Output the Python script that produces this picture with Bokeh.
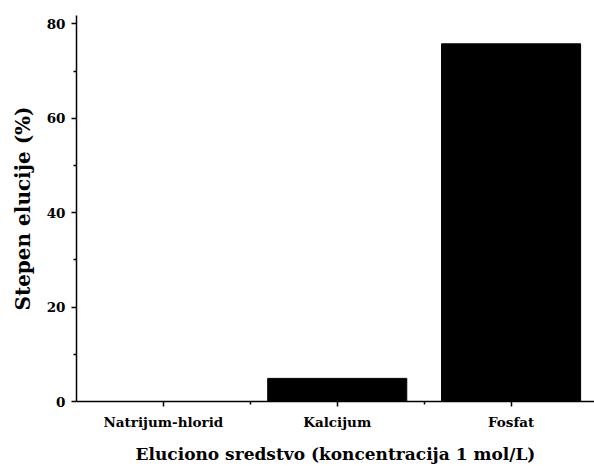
from bokeh.plotting import figure
from bokeh.models import Range1d, FixedTicker
from bokeh.embed import file_html
from bokeh.resources import INLINE

categories = ["Natrijum-hlorid", "Kalcijum", "Fosfat"]
positions = [1, 2, 3]
values = [0.0, 4.9, 75.8]

FONT = "DejaVu Serif"

p = figure(width=594, height=466, output_backend="svg", toolbar_location=None,
           x_range=Range1d(0.5, 3.48), y_range=Range1d(0, 81.8),
           min_border_left=76, min_border_right=0, min_border_top=15, min_border_bottom=64)

p.vbar(x=positions, top=values, width=0.8, color="black")

p.outline_line_color = None
p.xgrid.grid_line_color = None
p.ygrid.grid_line_color = None

xa = p.xaxis[0]
xa.ticker = FixedTicker(ticks=positions, minor_ticks=[1.5, 2.5])
xa.major_label_overrides = {pos: c for pos, c in zip(positions, categories)}
xa.axis_label = "Eluciono sredstvo (koncentracija 1 mol/L)"

ya = p.yaxis[0]
ya.ticker = FixedTicker(ticks=[0, 20, 40, 60, 80], minor_ticks=[10, 30, 50, 70])
ya.axis_label = "Stepen elucije (%)"

for ax in (xa, ya):
    ax.axis_line_color = "black"
    ax.axis_line_width = 1.5
    ax.major_tick_line_width = 1.5
    ax.minor_tick_line_width = 1.5
    ax.major_tick_in = 0
    ax.minor_tick_in = 0
    ax.major_tick_out = 5
    ax.minor_tick_out = 3
    ax.major_label_text_font = FONT
    ax.major_label_text_font_style = "bold"
    ax.major_label_text_font_size = "13.5px"
    ax.major_label_text_color = "black"
    ax.axis_label_text_font = FONT
    ax.axis_label_text_font_style = "bold"
    ax.axis_label_text_color = "black"

xa.axis_label_text_font_size = "17px"
ya.axis_label_text_font_size = "20px"
xa.major_label_standoff = 7
xa.axis_label_standoff = 11
ya.major_label_standoff = 6
ya.axis_label_standoff = 9

open("out.html", "w").write(file_html(p, INLINE))
